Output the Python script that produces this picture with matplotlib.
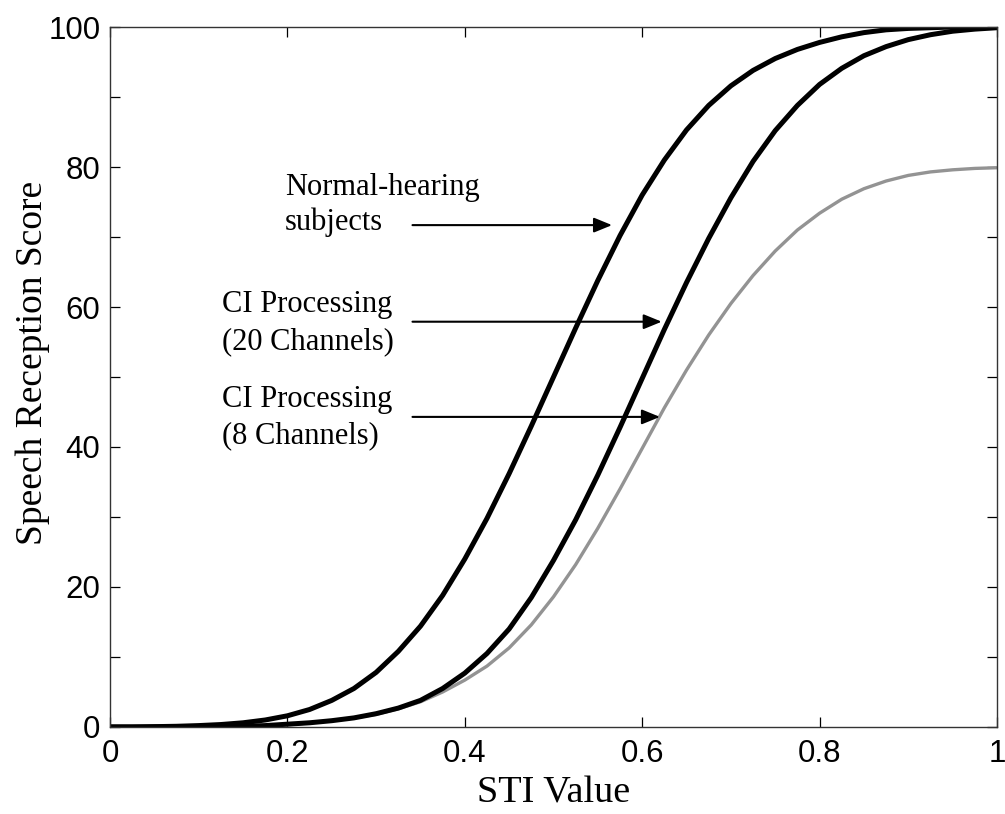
import numpy as np
import matplotlib
matplotlib.use('Agg')
import matplotlib.pyplot as plt
from matplotlib.ticker import MultipleLocator, FuncFormatter

# STI values and speech reception scores (%) for the three groups
sti = [0.0, 0.025, 0.05, 0.075, 0.1, 0.125, 0.15, 0.175, 0.2, 0.225,
       0.25, 0.275, 0.3, 0.325, 0.35, 0.375, 0.4, 0.425, 0.45, 0.475,
       0.5, 0.525, 0.55, 0.575, 0.6, 0.625, 0.65, 0.675, 0.7, 0.725,
       0.75, 0.775, 0.8, 0.825, 0.85, 0.875, 0.9, 0.925, 0.95, 0.975, 1.0]

normal = [0.0, 0.0, 0.05, 0.1, 0.2, 0.35, 0.6, 1.0, 1.6, 2.5,
          3.8, 5.5, 7.8, 10.8, 14.4, 18.8, 24.0, 29.8, 36.2, 43.0,
          50.0, 57.0, 63.8, 70.2, 76.0, 81.0, 85.3, 88.8, 91.6, 93.8,
          95.5, 96.8, 97.8, 98.6, 99.2, 99.6, 99.8, 99.9, 100.0, 100.0, 100.0]

ci20 = [0.0, 0.0, 0.0, 0.0, 0.0, 0.05, 0.1, 0.2, 0.4, 0.6,
        0.9, 1.3, 1.9, 2.7, 3.8, 5.5, 7.7, 10.5, 14.0, 18.5,
        23.8, 29.6, 36.0, 42.8, 49.8, 56.8, 63.5, 69.8, 75.6, 80.8,
        85.2, 88.8, 91.8, 94.1, 95.9, 97.2, 98.2, 98.9, 99.4, 99.7, 99.9]

ci8 = [0.0, 0.0, 0.0, 0.0, 0.0, 0.05, 0.1, 0.2, 0.3, 0.6,
       0.9, 1.3, 1.8, 2.6, 3.6, 5.0, 6.7, 8.7, 11.3, 14.6,
       18.6, 23.2, 28.4, 34.0, 39.8, 45.6, 51.0, 56.0, 60.5, 64.5,
       68.0, 71.0, 73.4, 75.4, 76.9, 78.0, 78.8, 79.3, 79.6, 79.8, 79.9]

# label lines: (text, x, baseline y)
labels = [
    ('Normal-hearing', 0.197, 76.0),
    ('subjects', 0.197, 71.0),
    ('CI Processing', 0.126, 59.3),
    ('(20 Channels)', 0.126, 53.9),
    ('CI Processing', 0.126, 45.7),
    ('(8 Channels)', 0.126, 40.6),
]

fig = plt.figure(figsize=(10.05, 8.14), dpi=100)
ax = fig.add_axes([0.1095, 0.1069, 0.8825, 0.8599])

ax.plot(sti, ci8, color='#939393', lw=2.4, solid_capstyle='butt')
ax.plot(sti, ci20, color='black', lw=3.6)
ax.plot(sti, normal, color='black', lw=3.6)

ax.set_xlim(0, 1)
ax.set_ylim(0, 100)

ax.xaxis.set_major_locator(MultipleLocator(0.2))
ax.yaxis.set_major_locator(MultipleLocator(10))
ax.xaxis.set_major_formatter(FuncFormatter(lambda v, p: '%g' % round(v, 2)))
ax.yaxis.set_major_formatter(FuncFormatter(lambda v, p: '%d' % v if round(v) % 20 == 0 else ''))
ax.tick_params(direction='in', top=True, right=True, length=7, width=0.9,
               labelsize=22.5, colors='black')
ax.tick_params(axis='x', pad=9)
ax.tick_params(axis='y', pad=7)
for lab in ax.get_xticklabels() + ax.get_yticklabels():
    lab.set_family('Liberation Sans')
for s in ax.spines.values():
    s.set_linewidth(1.0)
    s.set_color('#333333')

ax.set_xlabel('STI Value', family='Liberation Serif', fontsize=27.5, labelpad=5)
ax.set_ylabel('Speech Reception Score', family='Liberation Serif', fontsize=27)
ax.yaxis.set_label_coords(-0.0676, 0.52)

for txt, x, y in labels:
    ax.text(x, y, txt, family='Liberation Serif', fontsize=22, va='baseline', ha='left')

arrow = dict(arrowstyle='-|>,head_length=1.1,head_width=0.45', color='black',
             lw=1.5, shrinkA=0, shrinkB=0)
ax.annotate('', xy=(0.566, 71.7), xytext=(0.341, 71.7), arrowprops=arrow)
ax.annotate('', xy=(0.622, 57.9), xytext=(0.341, 57.9), arrowprops=arrow)
ax.annotate('', xy=(0.620, 44.3), xytext=(0.341, 44.3), arrowprops=arrow)

fig.savefig('out.png', dpi=100)
